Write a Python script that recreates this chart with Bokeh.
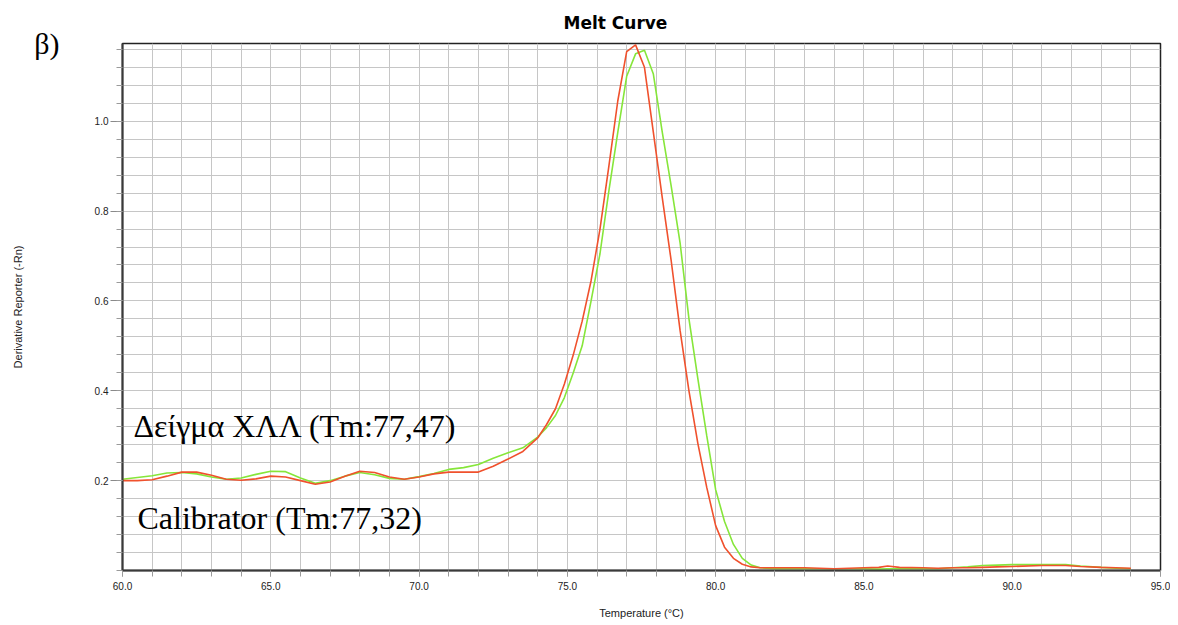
from bokeh.plotting import figure
from bokeh.models import Range1d, FixedTicker, PrintfTickFormatter, Label, LinearAxis
from bokeh.embed import file_html
from bokeh.resources import INLINE

# ---------------- data ----------------
temperature = [60.0, 60.5, 61.0, 61.5, 62.0, 62.5, 63.0, 63.5, 64.0, 64.5,
               65.0, 65.5, 66.0, 66.5, 67.0, 67.5, 68.0, 68.5, 69.0, 69.5,
               70.0, 70.5, 71.0, 71.5, 72.0, 72.5, 73.0, 73.5, 74.0, 74.3,
               74.6, 74.9, 75.2, 75.5, 75.8, 76.1, 76.4, 76.7, 77.0, 77.3,
               77.6, 77.9, 78.2, 78.5, 78.8, 79.1, 79.4, 79.7, 80.0, 80.3,
               80.6, 80.9, 81.2, 81.5, 82.0, 83.0, 84.0, 85.0, 85.5, 85.8,
               86.2, 87.0, 87.5, 88.0, 88.5, 89.0, 89.5, 90.0, 91.0, 91.8,
               92.3, 93.0, 93.5, 94.0]

calibrator = [0.200, 0.200, 0.202, 0.210, 0.219, 0.219, 0.212, 0.203, 0.201, 0.204,
              0.210, 0.208, 0.200, 0.192, 0.197, 0.210, 0.221, 0.218, 0.208, 0.203,
              0.208, 0.215, 0.219, 0.219, 0.219, 0.232, 0.248, 0.265, 0.295, 0.325,
              0.360, 0.415, 0.480, 0.555, 0.645, 0.760, 0.900, 1.045, 1.155, 1.170,
              1.120, 0.975, 0.830, 0.690, 0.535, 0.400, 0.283, 0.185, 0.100, 0.052,
              0.027, 0.014, 0.008, 0.006, 0.006, 0.006, 0.004, 0.006, 0.007, 0.010,
              0.007, 0.006, 0.005, 0.006, 0.006, 0.007, 0.008, 0.009, 0.011, 0.011,
              0.009, 0.007, 0.006, 0.005]

sample = [0.203, 0.207, 0.211, 0.217, 0.218, 0.215, 0.208, 0.203, 0.206, 0.214,
          0.221, 0.220, 0.206, 0.194, 0.200, 0.210, 0.218, 0.213, 0.205, 0.203,
          0.209, 0.216, 0.225, 0.229, 0.236, 0.250, 0.262, 0.273, 0.297, 0.318,
          0.345, 0.385, 0.440, 0.500, 0.600, 0.705, 0.845, 0.975, 1.100, 1.150,
          1.158, 1.105, 0.976, 0.856, 0.730, 0.560, 0.427, 0.300, 0.180, 0.109,
          0.058, 0.027, 0.012, 0.006, 0.004, 0.004, 0.004, 0.004, 0.003, 0.004,
          0.004, 0.004, 0.004, 0.006, 0.008, 0.011, 0.012, 0.013, 0.013, 0.013,
          0.010, 0.007, 0.005, 0.004]

x_ticks = [60, 65, 70, 75, 80, 85, 90, 95]
y_ticks = [0.2, 0.4, 0.6, 0.8, 1.0]

title_text = "Melt Curve"
x_label = "Temperature (\u00b0C)"
y_label = "Derivative Reporter (-Rn)"
panel_tag = "\u03b2)"
sample_label = "\u0394\u03b5\u03af\u03b3\u03bc\u03b1 \u03a7\u039b\u039b (Tm:77,47)"
calibrator_label = "Calibrator (Tm:77,32)"

# ---------------- figure ----------------
p = figure(width=1170, height=625, output_backend="svg", toolbar_location=None,
           x_range=Range1d(60, 95), y_range=Range1d(0, 1.173),
           min_border_left=122, min_border_right=10,
           min_border_top=42, min_border_bottom=55)

p.background_fill_color = "white"
p.border_fill_color = "white"
p.outline_line_color = "#222222"
p.outline_line_width = 1.5

p.title.text = title_text
p.title.align = "left"
p.title.offset = 441
p.title.standoff = 21
p.title.text_font = "DejaVu Sans"
p.title.text_font_style = "bold"
p.title.text_font_size = "17px"
p.title.text_line_height = 1.0
p.title.text_color = "black"

p.xaxis.ticker = FixedTicker(ticks=x_ticks, minor_ticks=[60 + i for i in range(36)])
p.yaxis.ticker = FixedTicker(ticks=y_ticks, minor_ticks=[round(0.04 * i, 2) for i in range(30)])
p.xaxis.formatter = PrintfTickFormatter(format="%.1f")
p.yaxis.formatter = PrintfTickFormatter(format="%.1f")

for g in (p.xgrid, p.ygrid):
    g.grid_line_color = "#c6c6c6"
    g.grid_line_width = 1
    g.minor_grid_line_color = "#c6c6c6"
    g.minor_grid_line_width = 1

for ax in (p.xaxis, p.yaxis):
    ax.axis_line_color = "#3a3a3a"
    ax.axis_line_width = 2
    ax.major_tick_in = 0
    ax.minor_tick_in = 0
    ax.major_tick_line_color = "#8a8a8a"
    ax.minor_tick_line_color = "#9a9a9a"
    ax.major_label_text_font = "Liberation Sans"
    ax.major_label_text_font_size = "10px"
    ax.major_label_text_color = "#222222"
    ax.axis_label_text_font = "Liberation Sans"
    ax.axis_label_text_font_size = "11px"
    ax.axis_label_text_font_style = "normal"
    ax.axis_label_text_color = "#222222"

p.yaxis.major_tick_out = 12
p.yaxis.minor_tick_out = 6
p.yaxis.major_label_standoff = 2

p.xaxis.major_tick_out = 6
p.xaxis.minor_tick_out = 6
p.xaxis.major_label_standoff = 5
p.xaxis.axis_label = x_label
p.xaxis.axis_label_standoff = 14


def bare_axis(label, standoff):
    a = LinearAxis(ticker=FixedTicker(ticks=[]), axis_label=label)
    a.axis_line_color = None
    a.major_tick_line_color = None
    a.minor_tick_line_color = None
    a.major_tick_out = 0
    a.minor_tick_out = 0
    a.major_tick_in = 0
    a.minor_tick_in = 0
    a.major_label_standoff = 0
    a.axis_label_standoff = standoff
    return a


# panel tag "β)" : horizontal label near the top, left of the tick labels
tag_axis = bare_axis(panel_tag, 32)
tag_axis.axis_label_orientation = "horizontal"
try:
    tag_axis.axis_label_align = "end"
except Exception:
    pass
tag_axis.axis_label_text_font = "Liberation Serif"
tag_axis.axis_label_text_font_size = "30px"
tag_axis.axis_label_text_font_style = "normal"
tag_axis.axis_label_text_color = "black"
tag_axis.axis_label_text_line_height = 1.6
p.add_layout(tag_axis, "left")

# y-axis title, outermost
ylab_axis = bare_axis(y_label, 8)
ylab_axis.axis_label_text_font = "Liberation Sans"
ylab_axis.axis_label_text_font_size = "11px"
ylab_axis.axis_label_text_font_style = "normal"
ylab_axis.axis_label_text_color = "#222222"
p.add_layout(ylab_axis, "left")

# ---------------- curves ----------------
p.line(temperature, sample, line_color="#86e63a", line_width=1.6)
p.line(temperature, calibrator, line_color="#f0512d", line_width=1.6)

# ---------------- texts ----------------
p.add_layout(Label(x=133 - 122, y=570 - 443, x_units="screen", y_units="screen",
                   text=sample_label, text_font="Liberation Serif",
                   text_font_size="32px", text_color="black"))
p.add_layout(Label(x=137 - 122, y=570 - 535, x_units="screen", y_units="screen",
                   text=calibrator_label, text_font="Liberation Serif",
                   text_font_size="32px", text_color="black"))

open("out.html", "w").write(file_html(p, INLINE))
